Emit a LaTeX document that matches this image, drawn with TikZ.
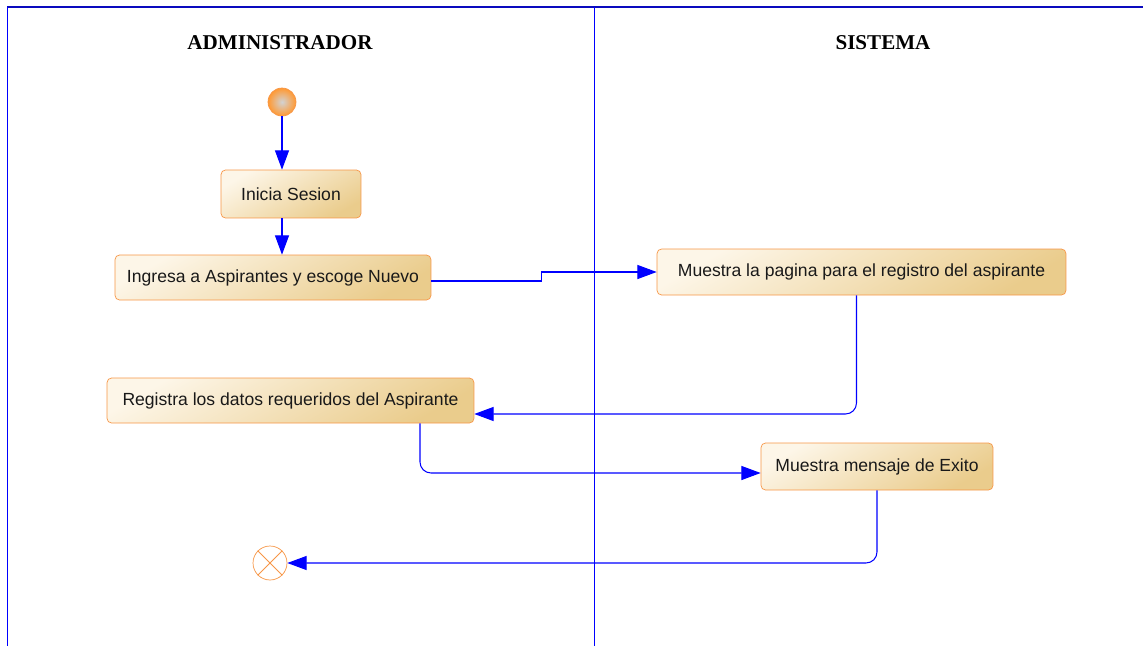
\documentclass[tikz,border=0pt]{standalone}
\usepackage{fontspec}
\setmainfont{Liberation Sans}
\newfontfamily\titulofont{Liberation Serif}
\usepackage{tikz}
\usetikzlibrary{positioning,arrows.meta,calc}
\definecolor{borde}{RGB}{247,150,70}
\definecolor{crema}{RGB}{253,246,232}
\definecolor{tostado}{RGB}{234,204,140}
\definecolor{azulmarco}{RGB}{10,10,190}

\begin{document}
\begin{tikzpicture}[x=0.02cm, y=-0.02cm,
        actividad/.style={rectangle, rounded corners=0.09cm, draw=borde, top color=crema, bottom color=tostado, shading angle=30, font=\fontsize{10}{12}\selectfont, text=black!90, inner sep=2pt},
        inicio/.style={circle, draw=borde, inner color=gray!35, outer color=orange!80, minimum size=0.56cm, inner sep=0pt},
        final/.style={circle, draw=borde, fill=white, minimum size=0.68cm, inner sep=0pt},
        flecha/.style={-{Triangle[length=11pt,width=8pt]}, blue, line width=0.6pt, rounded corners=0.22cm},
        titulo/.style={font=\titulofont\bfseries\fontsize{12}{14}\selectfont}
      ]
        \useasboundingbox (0,0) rectangle (1143,646);
        % carriles
        \draw[azulmarco, line width=1.1pt] (1143,7) -- (7,7);
        \draw[blue, line width=0.5pt] (7,7) -- (7,646);
        \draw[blue, line width=0.5pt] (594,7) -- (594,646);
        \node[titulo] at (280,43) (admin) {ADMINISTRADOR};
        \node[titulo] at (883,43) (sistema) {SISTEMA};
        % nodos
        \node[inicio] at (282,102) (ini) {};
        \node[actividad, minimum width=2.8cm, minimum height=0.96cm] at (291,194) (sesion) {Inicia Sesion};
        \node[actividad, minimum width=6.32cm, minimum height=0.9cm] at (273,277.5) (ingresa) {Ingresa a Aspirantes y escoge Nuevo};
        \node[actividad, minimum width=8.18cm, minimum height=0.92cm] at (861.5,272) (pagina) {Muestra la pagina para el registro del aspirante};
        \node[actividad, minimum width=7.34cm, minimum height=0.9cm] at (290.5,400.5) (registra) {Registra los datos requeridos del Aspirante};
        \node[actividad, minimum width=4.64cm, minimum height=0.94cm] at (877,466.5) (exito) {Muestra mensaje de Exito};
        \node[final] at (270,563) (fin) {};
        \draw[borde, line width=0.5pt] (fin.45) -- (fin.225) (fin.135) -- (fin.315);
        % flujo
        \draw[flecha] (ini) -- (sesion.north -| ini);
        \draw[flecha] (sesion.south -| ini) -- (ingresa.north -| ini);
        \draw[flecha, rounded corners=0pt] ($(ingresa.east)+(0,3.5)$) -- ++(110,0) |- (pagina.west);
        \draw[flecha] ($(pagina.south)+(-5,0)$) |- ($(registra.east)+(0,13.5)$);
        \draw[flecha] ($(registra.south)+(129.5,0)$) |- ($(exito.west)+(0,6.5)$);
        \draw[flecha] (exito.south) |- (fin);
      \end{tikzpicture}
\end{document}
